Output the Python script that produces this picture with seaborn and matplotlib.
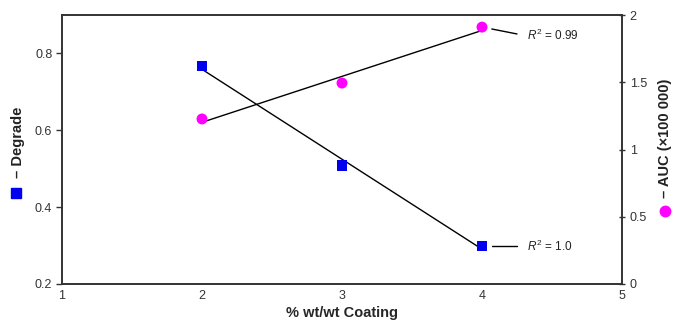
import matplotlib
matplotlib.use("Agg")
import matplotlib.pyplot as plt
import seaborn as sns
import numpy as np
import pandas as pd

coating = [2, 3, 4]
degrade = [0.767, 0.508, 0.299]
auc = [1.227, 1.494, 1.91]
r2_degrade = "1.0"
r2_auc = "0.99"

sns.set_theme(style="white")
plt.rcParams['font.family'] = ['Liberation Sans', 'DejaVu Sans']
plt.rcParams['mathtext.fontset'] = 'custom'
plt.rcParams['mathtext.rm'] = 'Liberation Sans'
plt.rcParams['mathtext.it'] = 'Liberation Sans:italic'

df = pd.DataFrame({"coating": coating, "degrade": degrade, "auc": auc})

fig = plt.figure(figsize=(6.75, 3.27), dpi=100)
ax = fig.add_axes([62/675, 1-284/327, (622-62)/675, (284-15)/327])
ax2 = ax.twinx()

sns.regplot(data=df, x="coating", y="degrade", ax=ax, ci=None, truncate=True,
            marker="s", scatter_kws=dict(color="#0000ee", s=58, zorder=3, edgecolor="none", alpha=1),
            line_kws=dict(color="black", lw=1.0))
sns.regplot(data=df, x="coating", y="auc", ax=ax2, ci=None, truncate=True,
            marker="o", scatter_kws=dict(color="#ff00ff", s=62, zorder=3, edgecolor="none", alpha=1),
            line_kws=dict(color="black", lw=1.0))

ax.set_xlim(1, 5)
ax.set_ylim(0.2, 0.9)
ax2.set_ylim(0, 2)
ax.set_xticks([1, 2, 3, 4, 5])
ax.set_yticks([0.2, 0.4, 0.6, 0.8])
ax2.set_yticks([0, 0.5, 1, 1.5, 2])
ax.set_yticklabels(["0.2", "0.4", "0.6", "0.8"])
ax2.set_yticklabels(["0", "0.5", "1", "1.5", "2"])

for a in (ax, ax2):
    for s in a.spines.values():
        s.set_color("#333333")
        s.set_linewidth(1.2)
ax.tick_params(axis="x", direction="inout", length=5, width=1, colors="#333333",
               labelsize=9, labelcolor="#333333", pad=2)
ax.tick_params(axis="y", direction="out", length=4, width=1, colors="#333333",
               labelsize=9, labelcolor="#333333", pad=3, left=True)
ax2.tick_params(axis="y", direction="inout", length=5, width=1, colors="#333333",
                labelsize=9, labelcolor="#333333", pad=3, right=True)

ax.set_xlabel("% wt/wt Coating", fontsize=10.5, fontweight="bold", labelpad=3)
ax.set_ylabel("")
ax2.set_ylabel("")

# y labels with markers
fig.text(18/675, 1-142/327, "– Degrade", rotation=90, fontsize=10.5, fontweight="bold",
         ha="center", va="center", color="#222222")
fig.add_artist(plt.Line2D([16/675], [1-193/327], marker="s", color="#0000ee",
                          markersize=7, transform=fig.transFigure))
fig.text(665/675, 1-138/327, "– AUC (×100 000)", rotation=90, fontsize=10.5, fontweight="bold",
         ha="center", va="center", color="#222222")
fig.add_artist(plt.Line2D([665/675], [1-211/327], marker="o", color="#ff00ff",
                          markersize=7.5, transform=fig.transFigure))

# R^2 annotations
ax.plot([4.07, 4.25], [degrade[2], degrade[2]], color="black", lw=1.0)
ax.text(4.32, degrade[2], r"$R^2$ = " + r2_degrade, fontsize=8.5, va="center", color="#222222")
ax2.plot([4.07, 4.25], [1.896, 1.859], color="black", lw=1.0)
ax2.text(4.32, 1.851, r"$R^2$ = " + r2_auc, fontsize=8.5, va="center", color="#222222")

fig.savefig("out.png", dpi=100)
